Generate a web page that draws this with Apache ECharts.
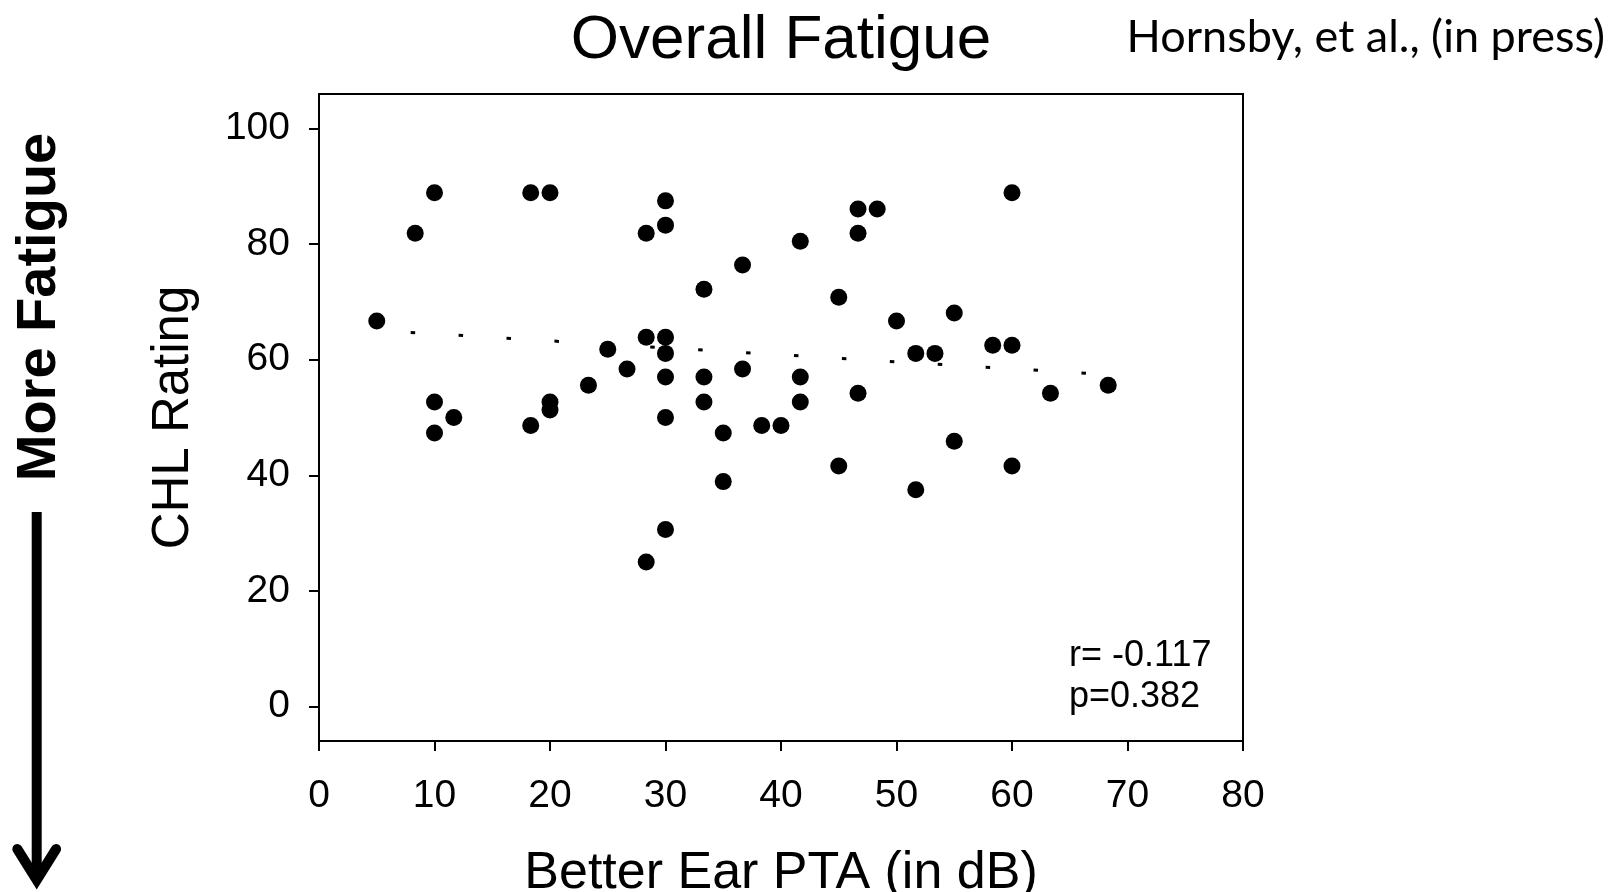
<!DOCTYPE html>
<html><head><meta charset="utf-8">
<script src="https://cdn.jsdelivr.net/npm/echarts@6/dist/echarts.min.js"></script>
<style>html,body{margin:0;padding:0;background:#fff}#chart{width:1610px;height:892px}</style>
</head><body><div id="chart"></div>
<script>
// ---- data ----
const ptaX = [5, 8.33, 10, 18.33, 20, 30, 30, 28.33, 36.67, 33.33,
  28.33, 30, 25, 30, 26.67, 30, 33.33, 36.67, 23.33, 60,
  46.67, 48.33, 46.67, 41.67, 45, 50, 55, 51.67, 53.33, 58.33,
  60, 41.67, 68.33, 10, 11.67, 10, 20, 20, 18.33, 33.33,
  30, 35, 38.33, 35, 30, 28.33, 41.67, 46.67, 40, 55,
  45, 60, 51.67, 63.33];
const chlY = [66.7, 81.9, 88.9, 88.9, 88.9, 87.5, 83.3, 81.9, 76.4, 72.2,
  63.9, 63.9, 61.8, 61.1, 58.4, 57.0, 57.0, 58.4, 55.6, 88.9,
  86.1, 86.1, 81.9, 80.5, 70.8, 66.7, 68.1, 61.1, 61.1, 62.5,
  62.5, 57.0, 55.6, 52.7, 50.0, 47.3, 52.7, 51.3, 48.6, 52.7,
  50.0, 47.3, 48.6, 38.9, 30.6, 25.0, 52.7, 54.2, 48.6, 45.9,
  41.6, 41.6, 37.5, 54.2];
const trendX = [5, 68.33];
const trendY = [65.08, 57.43];
const xTicks = [0, 10, 20, 30, 40, 50, 60, 70, 80];
const yTicks = [0, 20, 40, 60, 80, 100];
const titleText = 'Overall Fatigue';
const citeText = 'Hornsby, et al., (in press)';
const statLines = ['r= -0.117', 'p=0.382'];
const sideLabel = 'More Fatigue';
const xName = 'Better Ear PTA (in dB)';
const yName = 'CHL Rating';

// ---- build ----
const FONT = 'Liberation Sans, Arial, sans-serif';
const points = ptaX.map((x, i) => [x, chlY[i]]);
const trend = trendX.map((x, i) => [x, trendY[i]]);

const chart = echarts.init(document.getElementById('chart'), null, {renderer: 'canvas'});
chart.setOption({
  animation: false,
  backgroundColor: '#fff',
  title: {
    text: titleText, left: 776, top: 5, textAlign: 'center',
    textStyle: {fontFamily: FONT, fontSize: 62, fontWeight: 'normal', color: '#000'}
  },
  grid: {left: 319, top: 94, width: 924, height: 647, show: true, borderColor: '#000', borderWidth: 2,
    containLabel: false, outerBoundsMode: 'none'},
  xAxis: {
    type: 'value', min: xTicks[0], max: xTicks[xTicks.length - 1], interval: 10,
    axisLine: {onZero: false, lineStyle: {color: '#000', width: 2}},
    axisTick: {show: true, inside: false, length: 10, lineStyle: {color: '#000', width: 2}},
    axisLabel: {fontFamily: FONT, fontSize: 39, color: '#000', margin: 36},
    splitLine: {show: false},
    name: xName, nameLocation: 'middle', nameGap: 107,
    nameTextStyle: {fontFamily: FONT, fontSize: 52, color: '#000'}
  },
  yAxis: {
    type: 'value', min: -6, max: 106,
    axisLine: {onZero: false, lineStyle: {color: '#000', width: 2}},
    axisTick: {show: true, inside: false, length: 10, customValues: yTicks, lineStyle: {color: '#000', width: 2}},
    axisLabel: {fontFamily: FONT, fontSize: 39, color: '#000', margin: 29, customValues: yTicks},
    splitLine: {show: false},
    name: yName, nameLocation: 'middle', nameGap: 120,
    nameTextStyle: {fontFamily: FONT, fontSize: 51, color: '#000'}
  },
  series: [
    {
      type: 'line', data: trend, showSymbol: false, silent: true, z: 1,
      lineStyle: {color: '#000', width: 3, type: [4.5, 43.5], dashOffset: 14, cap: 'butt', opacity: 1}
    },
    {
      type: 'scatter', data: points, symbol: 'circle', symbolSize: 17, z: 2,
      itemStyle: {color: '#000', opacity: 1}
    }
  ],
  graphic: [
    {
      type: 'text', x: 1605, y: 15,
      style: {text: citeText, font: '45px Lato, sans-serif', fill: '#000', textAlign: 'right', textVerticalAlign: 'top'}
    },
    {
      type: 'text', x: 1069, y: 636,
      style: {text: statLines.join('\n'), font: '36px ' + FONT, lineHeight: 41, fill: '#000', textAlign: 'left', textVerticalAlign: 'top'}
    },
    {
      type: 'text', x: 40, y: 307, rotation: Math.PI / 2,
      style: {text: sideLabel, font: 'bold 56px ' + FONT, fill: '#000', textAlign: 'center', textVerticalAlign: 'middle'}
    },
    {
      type: 'line', shape: {x1: 36.7, y1: 512, x2: 36.7, y2: 878},
      style: {stroke: '#000', lineWidth: 10, lineCap: 'butt'}
    },
    {
      type: 'polyline', shape: {points: [[17.3, 849], [36.7, 880], [56.1, 849]]},
      style: {stroke: '#000', lineWidth: 10, lineCap: 'round', lineJoin: 'miter', fill: null}
    }
  ]
});
</script></body></html>
